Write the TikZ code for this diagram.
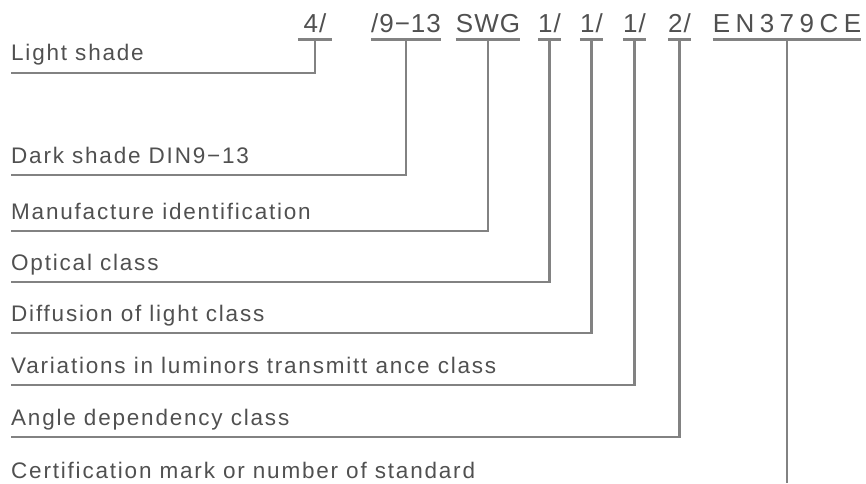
\documentclass[tikz,border=0pt]{standalone}
\usepackage{fontspec}
\setmainfont{Liberation Sans}
\usetikzlibrary{positioning}
\definecolor{txtgray}{RGB}{80,80,80}
\definecolor{linegray}{RGB}{130,130,130}
\newfontfamily\lblfont[LetterSpace=8]{Liberation Sans}
\newfontfamily\codefont[LetterSpace=4]{Liberation Sans}
\newfontfamily\widefont[LetterSpace=21]{Liberation Sans}

\begin{document}
\begin{tikzpicture}[
		x=1pt, y=1pt,
		lbl/.style={anchor=base west, inner xsep=0pt, inner ysep=12pt, text depth=0pt, text=txtgray, font=\lblfont\fontsize{22.5}{26}\selectfont},
		code/.style={anchor=base, inner xsep=0pt, inner ysep=6pt, text depth=0pt, text=txtgray, font=\codefont\fontsize{26}{30}\selectfont},
		ul/.style={draw=linegray, line width=2.8pt},
		lead/.style={draw=linegray, line width=2.3pt}
		]
		\useasboundingbox (0,0) rectangle (866,483);
		% code line at the top
		\node[code, minimum width=34pt] (c1) at (315,450) {4/};
		\node[code] (c2) at (406,450) {/9−13};
		\node[code] (c3) at (488,450) {SWG};
		\node[code] (c4) at (549.5,450) {1/};
		\node[code] (c5) at (591.5,450) {1/};
		\node[code] (c6) at (634.5,450) {1/};
		\node[code] (c7) at (679.5,450) {2/};
		\node[code, font=\widefont\fontsize{26}{30}\selectfont] (c8) at (787,450) {EN379CE};
		
		% labels on the left
		\node[lbl] (l1) at (11,422) {Light shade};
		\node[lbl] (l2) at (11,320) {Dark shade DIN9−13};
		\node[lbl] (l3) at (11,264) {Manufacture identification};
		\node[lbl] (l4) at (11,213) {Optical class};
		\node[lbl] (l5) at (11,162) {Diffusion of light class};
		\node[lbl] (l6) at (11,110) {Variations in luminors transmitt ance class};
		\node[lbl] (l7) at (11,58) {Angle dependency class};
		\node[lbl] (l8) at (11,5) {Certification mark or number of standard};
		\coordinate (end) at (c8 |- 0,0);
		
		\foreach \c in {c1,c2,c3,c4,c5,c6,c7,c8}
		\draw[ul] (\c.south west) -- (\c.south east);
		
		\draw[lead] (c1.south) |- (l1.south west);
		\draw[lead] (c2.south) |- (l2.south west);
		\draw[lead] (c3.south) |- (l3.south west);
		\draw[lead] (c4.south) |- (l4.south west);
		\draw[lead] (c5.south) |- (l5.south west);
		\draw[lead] (c6.south) |- (l6.south west);
		\draw[lead] (c7.south) |- (l7.south west);
		\draw[lead] (c8.south) -- (end);
	\end{tikzpicture}
\end{document}
